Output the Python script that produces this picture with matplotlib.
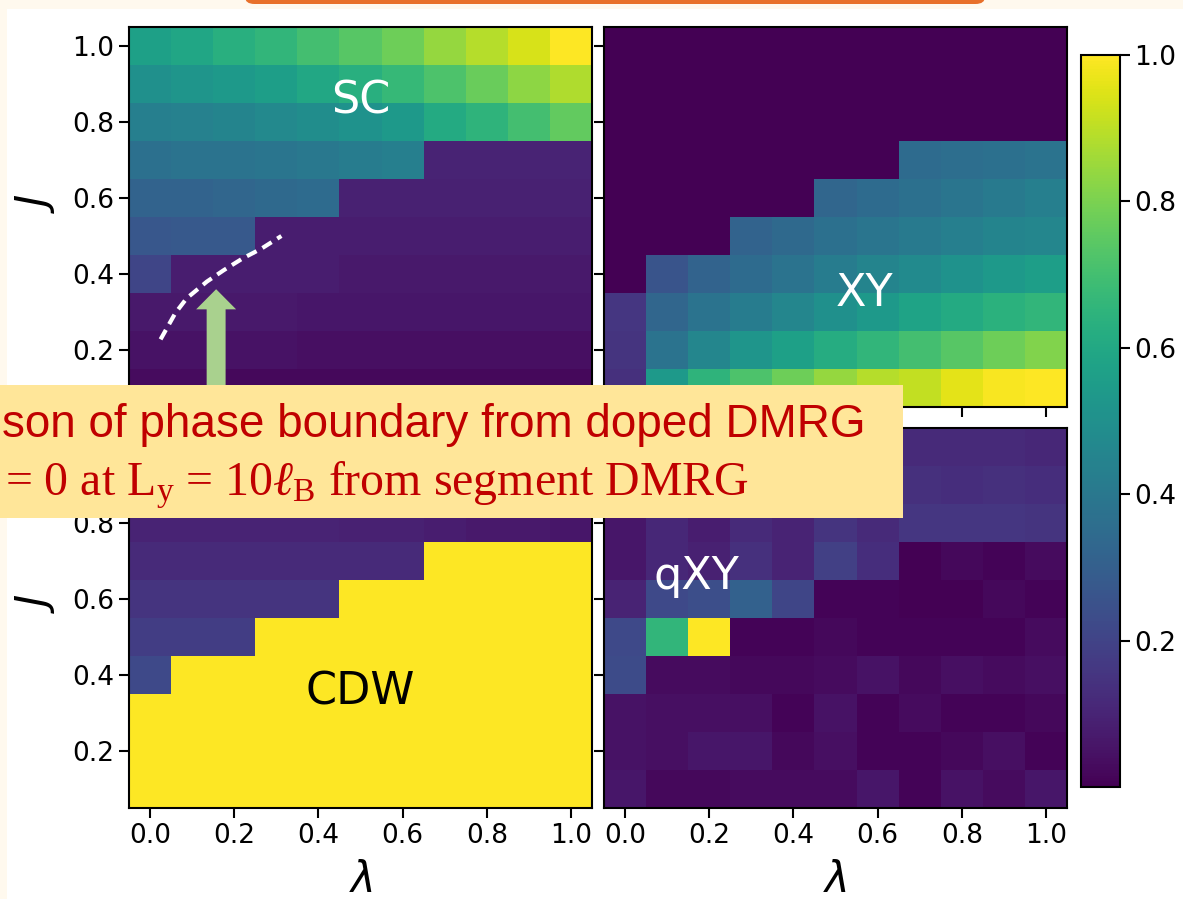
import numpy as np
import matplotlib
matplotlib.use("Agg")
import matplotlib.pyplot as plt
from matplotlib.patches import Rectangle, FancyBboxPatch, FancyArrow

# lambda (columns) and J (rows, top row first)
lam = [0.0, 0.1, 0.2, 0.3, 0.4, 0.5, 0.6, 0.7, 0.8, 0.9, 1.0]
J_vals = [1.0, 0.9, 0.8, 0.7, 0.6, 0.5, 0.4, 0.3, 0.2, 0.1]

sc = [
    [0.57, 0.59, 0.63, 0.66, 0.70, 0.74, 0.78, 0.84, 0.89, 0.94, 1.00],
    [0.50, 0.52, 0.54, 0.56, 0.60, 0.63, 0.67, 0.72, 0.77, 0.83, 0.88],
    [0.43, 0.44, 0.45, 0.47, 0.49, 0.51, 0.54, 0.61, 0.65, 0.70, 0.76],
    [0.37, 0.38, 0.38, 0.39, 0.40, 0.42, 0.43, 0.10, 0.10, 0.10, 0.10],
    [0.32, 0.32, 0.33, 0.34, 0.35, 0.09, 0.09, 0.09, 0.09, 0.09, 0.09],
    [0.27, 0.28, 0.28, 0.08, 0.08, 0.08, 0.08, 0.08, 0.08, 0.08, 0.08],
    [0.21, 0.08, 0.08, 0.08, 0.08, 0.07, 0.07, 0.07, 0.07, 0.07, 0.07],
    [0.07, 0.07, 0.07, 0.07, 0.06, 0.06, 0.06, 0.06, 0.06, 0.06, 0.06],
    [0.05, 0.05, 0.05, 0.05, 0.04, 0.04, 0.04, 0.04, 0.04, 0.04, 0.04],
    [0.03, 0.03, 0.02, 0.02, 0.02, 0.02, 0.02, 0.02, 0.02, 0.02, 0.02],
]

xy = [
    [0.0] * 11,
    [0.0] * 11,
    [0.0] * 11,
    [0.0, 0.0, 0.0, 0.0, 0.0, 0.0, 0.0, 0.35, 0.36, 0.37, 0.38],
    [0.0, 0.0, 0.0, 0.0, 0.0, 0.33, 0.35, 0.37, 0.39, 0.41, 0.43],
    [0.0, 0.0, 0.0, 0.32, 0.34, 0.37, 0.39, 0.41, 0.43, 0.45, 0.46],
    [0.0, 0.26, 0.32, 0.35, 0.38, 0.42, 0.45, 0.48, 0.51, 0.54, 0.56],
    [0.16, 0.33, 0.38, 0.42, 0.46, 0.50, 0.54, 0.58, 0.61, 0.64, 0.66],
    [0.15, 0.38, 0.46, 0.52, 0.57, 0.62, 0.66, 0.70, 0.74, 0.78, 0.81],
    [0.14, 0.54, 0.65, 0.72, 0.78, 0.84, 0.89, 0.91, 0.96, 0.99, 1.00],
]

cdw = [
    [0.09, 0.09, 0.09, 0.09, 0.09, 0.08, 0.08, 0.08, 0.07, 0.07, 0.07],
    [0.10, 0.10, 0.10, 0.09, 0.09, 0.09, 0.08, 0.08, 0.08, 0.07, 0.07],
    [0.10, 0.10, 0.10, 0.10, 0.10, 0.09, 0.09, 0.08, 0.07, 0.07, 0.06],
    [0.12, 0.12, 0.12, 0.12, 0.12, 0.12, 0.12, 1.0, 1.0, 1.0, 1.0],
    [0.15, 0.15, 0.15, 0.15, 0.15, 1.0, 1.0, 1.0, 1.0, 1.0, 1.0],
    [0.18, 0.18, 0.18, 1.0, 1.0, 1.0, 1.0, 1.0, 1.0, 1.0, 1.0],
    [0.22, 1.0, 1.0, 1.0, 1.0, 1.0, 1.0, 1.0, 1.0, 1.0, 1.0],
    [1.0] * 11,
    [1.0] * 11,
    [1.0] * 11,
]

qxy = [
    [0.10, 0.10, 0.10, 0.10, 0.10, 0.10, 0.10, 0.12, 0.12, 0.12, 0.11],
    [0.10, 0.10, 0.10, 0.10, 0.10, 0.10, 0.10, 0.14, 0.13, 0.14, 0.13],
    [0.06, 0.11, 0.08, 0.12, 0.10, 0.15, 0.12, 0.16, 0.16, 0.16, 0.15],
    [0.06, 0.11, 0.09, 0.14, 0.10, 0.19, 0.13, 0.00, 0.02, 0.01, 0.03],
    [0.10, 0.22, 0.24, 0.31, 0.21, 0.01, 0.01, 0.00, 0.00, 0.02, 0.01],
    [0.22, 0.66, 1.00, 0.01, 0.01, 0.02, 0.01, 0.01, 0.01, 0.01, 0.03],
    [0.23, 0.03, 0.03, 0.02, 0.02, 0.03, 0.05, 0.02, 0.04, 0.03, 0.04],
    [0.05, 0.04, 0.04, 0.04, 0.01, 0.05, 0.01, 0.03, 0.01, 0.01, 0.02],
    [0.05, 0.04, 0.06, 0.06, 0.02, 0.04, 0.01, 0.01, 0.02, 0.04, 0.01],
    [0.06, 0.02, 0.02, 0.03, 0.03, 0.03, 0.06, 0.01, 0.05, 0.03, 0.06],
]

# phase boundary from segment DMRG (drawn dashed on SC panel)
bound_lam = [0.025, 0.060, 0.087, 0.135, 0.175, 0.220, 0.265, 0.312]
bound_J = [0.228, 0.297, 0.336, 0.380, 0.410, 0.441, 0.467, 0.500]

panel_names = ["SC", "XY", "CDW", "qXY"]
panel_text_pos = [(0.50, 0.855), (0.57, 0.35), (0.50, 0.355), (0.17, 0.66)]
panel_text_col = ["white", "white", "black", "white"]

plt.rcParams["mathtext.fontset"] = "custom"
plt.rcParams["mathtext.rm"] = "Liberation Serif"
plt.rcParams["mathtext.it"] = "Liberation Serif:italic"

W, H = 1183, 899
fig = plt.figure(figsize=(W / 100, H / 100), dpi=100)
fig.patch.set_facecolor("#FFF9EE")
fig.patches.append(Rectangle((7 / W, 0), 1, 1 - 9 / H, transform=fig.transFigure,
                             facecolor="white", edgecolor="none", zorder=-10))
fig.patches.append(FancyBboxPatch((245 / W, 1 - 4 / H), 740 / W, 30 / H,
                                  boxstyle="round,pad=0,rounding_size=0.008",
                                  transform=fig.transFigure, facecolor="#E8702A",
                                  edgecolor="none", zorder=-5, clip_on=False))

axw = 463 / W
axh = 380 / H
lefts = [129 / W, 604 / W]
bottoms = [1 - 407 / H, 1 - 808 / H]
data = [sc, xy, cdw, qxy]
extent = [lam[0] - 0.05, lam[-1] + 0.05, J_vals[-1] - 0.05, J_vals[0] + 0.05]
yt = [0.2, 0.4, 0.6, 0.8, 1.0]

axes = []
for k in range(4):
    r, c = divmod(k, 2)
    ax = fig.add_axes([lefts[c], bottoms[r], axw, axh])
    im = ax.imshow(np.array(data[k]), cmap="viridis", vmin=0, vmax=1,
                   extent=extent, origin="upper", aspect="auto",
                   interpolation="nearest")
    ax.set_xticks([0.0, 0.2, 0.4, 0.6, 0.8, 1.0])
    ax.set_yticks(yt)
    if k == 2:
        # the 1.0 label sits under the annotation box
        ax.set_yticklabels(["0.2", "0.4", "0.6", "0.8", ""])
    ax.tick_params(direction="out", length=7, width=1.5, labelsize=19)
    if r == 0:
        ax.tick_params(labelbottom=False)
    if c == 1:
        ax.tick_params(labelleft=False)
    for s in ax.spines.values():
        s.set_linewidth(1.5)
    tx, ty = panel_text_pos[k]
    ax.text(tx, ty, panel_names[k], color=panel_text_col[k], fontsize=32,
            ha="center", va="center")
    axes.append(ax)

# boundary curve and arrow on SC panel
axes[0].plot(bound_lam, bound_J, color="white", lw=3, dashes=(2.6, 1.6))
axes[0].add_patch(FancyArrow(0.157, 0.05, 0, 0.31, width=0.045, head_width=0.095,
                             head_length=0.053, length_includes_head=True,
                             color="#A9D18E", lw=0))

cax = fig.add_axes([1081 / W, 1 - 787 / H, 39 / W, 732 / H])
cb = fig.colorbar(im, cax=cax, ticks=yt)
cb.outline.set_linewidth(1.5)
cax.tick_params(labelsize=19, length=7, width=1.5)

for y in [203, 603]:
    fig.text(35 / W, 1 - y / H, "$J$", fontsize=30, rotation=90, ha="center",
             va="center", math_fontfamily="dejavusans")
for x in [361, 835]:
    fig.text(x / W, 1 - 880 / H, r"$\lambda$", fontsize=30, ha="center",
             va="center", math_fontfamily="dejavusans")

# annotation box
fig.patches.append(Rectangle((0, 1 - 518 / H), 903 / W, 133 / H, transform=fig.transFigure,
                             facecolor="#FFE699", edgecolor="none", zorder=10))
fig.text(2 / W, 1 - 437 / H, "son of phase boundary from doped DMRG",
         fontsize=33, family="Liberation Sans", color="#C00000",
         ha="left", va="baseline", zorder=11)
fig.text(5 / W, 1 - 495 / H,
         r"= 0 at $\mathrm{L_y}$ = 10$\ell_\mathrm{B}$ from segment DMRG",
         fontsize=34.5, family="Liberation Serif", color="#C00000",
         ha="left", va="baseline", zorder=11)

fig.savefig("out.png", dpi=100)
